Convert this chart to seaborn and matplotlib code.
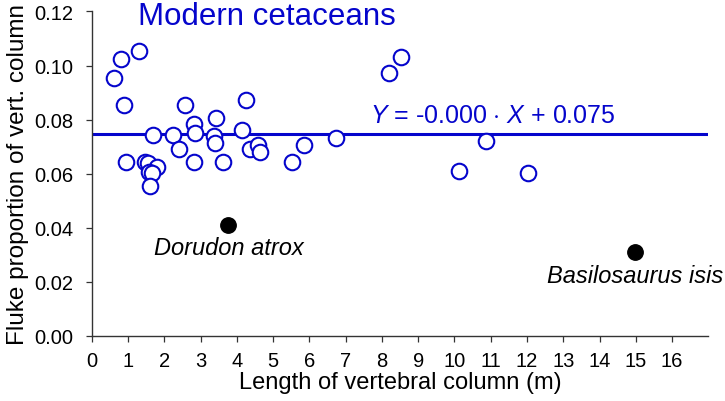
import numpy as np
import matplotlib
matplotlib.use("Agg")
import matplotlib.pyplot as plt
import seaborn as sns

# -----------------------
# Data
# -----------------------

# modern cetaceans: vertebral column length (m) vs fluke proportion
modern_len = [0.62, 0.81, 1.30, 0.88, 0.95, 1.47, 1.55, 1.79, 1.57, 1.66, 1.61,
              1.68, 2.25, 2.42, 2.58, 2.81, 2.86, 2.83, 3.42, 3.38, 3.41, 3.61,
              4.24, 4.15, 4.36, 4.58, 4.63, 5.51, 5.86, 6.73, 8.20, 8.54,
              10.12, 10.88, 12.04]
modern_prop = [0.0955, 0.1024, 0.1053, 0.0853, 0.0643, 0.0644, 0.0641, 0.0625,
               0.0605, 0.0603, 0.0554, 0.0742, 0.0742, 0.0692, 0.0853, 0.0784,
               0.0750, 0.0643, 0.0804, 0.0740, 0.0714, 0.0643, 0.0871, 0.0761,
               0.0691, 0.0706, 0.0681, 0.0643, 0.0704, 0.0732, 0.0973, 0.1032,
               0.0611, 0.0720, 0.0604]

# fossil archaeocetes
fossil_names = ["Dorudon atrox", "Basilosaurus isis"]
fossil_len = [3.77, 14.99]
fossil_prop = [0.0411, 0.0311]

fit_slope = 0.0
fit_icpt = 0.0745
x_ticks = list(range(0, 17))
y_ticks = [0.00, 0.02, 0.04, 0.06, 0.08, 0.10, 0.12]

BLUE = "#0505cc"

# -----------------------
# Plot
# -----------------------

sns.set_style("ticks")
plt.rcParams["font.family"] = ["Liberation Sans", "DejaVu Sans"]
plt.rcParams["mathtext.fontset"] = "custom"
plt.rcParams["mathtext.it"] = "Liberation Sans:italic"
plt.rcParams["mathtext.rm"] = "Liberation Sans"
plt.rcParams["text.color"] = "black"
plt.rcParams["axes.labelcolor"] = "black"
plt.rcParams["xtick.color"] = "black"
plt.rcParams["ytick.color"] = "black"

fig = plt.figure(figsize=(7.25, 4.02), dpi=100)
ax = fig.add_axes([0.1265, 0.1624, 0.977 - 0.1265, 0.969 - 0.1624])

xs = np.array([0, 17])
sns.lineplot(x=xs, y=fit_slope * xs + fit_icpt, color=BLUE, lw=2.2, ax=ax, zorder=1)

sns.scatterplot(x=modern_len, y=modern_prop, ax=ax, s=125, marker="o",
                facecolor="white", edgecolor=BLUE, linewidth=1.5, zorder=3)
sns.scatterplot(x=fossil_len, y=fossil_prop, ax=ax, s=125, marker="o",
                color="black", edgecolor="black", zorder=3)

ax.text(fossil_len[0], 0.0325, fossil_names[0], style="italic", fontsize=17,
        ha="center", va="center")
ax.text(fossil_len[1], 0.0222, fossil_names[1], style="italic", fontsize=17,
        ha="center", va="center")

ax.text(1.28, 0.1185, "Modern cetaceans", color=BLUE, fontsize=22.5,
        ha="left", va="center")
ax.text(7.68, 0.0790, r"$Y$ = -0.000 $\cdot$ $X$ + 0.075", color=BLUE,
        fontsize=18, ha="left", va="baseline")

ax.set_xlim(0, 17)
ax.set_ylim(0, 0.12)
ax.set_xticks(x_ticks)
ax.set_yticks(y_ticks)
ax.set_yticklabels([f"{v:.2f}" for v in y_ticks])
ax.tick_params(axis="both", labelsize=14.5, length=4, width=0.9,
               color="#333333", labelcolor="black")
ax.tick_params(axis="x", pad=7)
ax.tick_params(axis="y", pad=9)
for sp in ["left", "bottom"]:
    ax.spines[sp].set_linewidth(1.0)
    ax.spines[sp].set_color("#333333")
sns.despine(ax=ax)

ax.set_xlabel("Length of vertebral column (m)", fontsize=17, labelpad=1)
ax.set_ylabel("Fluke proportion of vert. column", fontsize=17.5, labelpad=4)

fig.savefig("out.png", dpi=100)
